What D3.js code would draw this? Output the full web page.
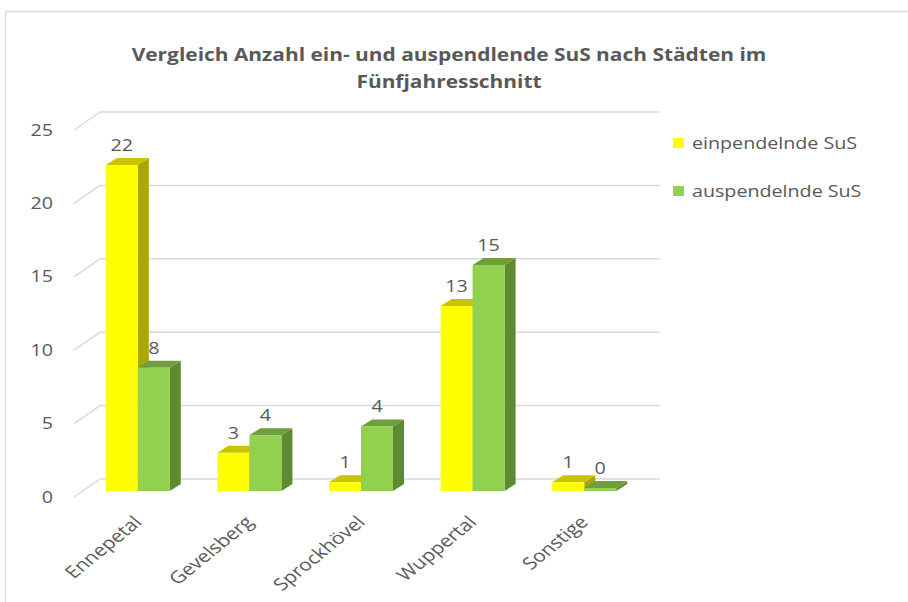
<!DOCTYPE html>
<html><head><meta charset="utf-8">
<script src="https://cdn.jsdelivr.net/npm/d3@7"></script>
<style>
html,body{margin:0;padding:0;background:#fff;}
text{font-family:"Open Sans",sans-serif;fill:#595959;}
</style></head>
<body>
<svg id="chart" width="908" height="602"></svg>
<script>
const categories = ["Ennepetal","Gevelsberg","Sprockhövel","Wuppertal","Sonstige"];
const einpendelnde = [22.2, 2.6, 0.6, 12.6, 0.6];
const auspendelnde = [8.4, 3.8, 4.4, 15.4, 0.2];
const seriesNames = ["einpendelnde SuS","auspendelnde SuS"];
const yTicks = [0,5,10,15,20,25];
const titleLines = ["Vergleich Anzahl ein- und auspendlende SuS nach Städten im","Fünfjahresschnitt"];

const colors = [
  {front:"#ffff00", top:"#c9c400", side:"#a9a800"},
  {front:"#92d050", top:"#6f9e3c", side:"#5e8a30"}
];
const SX = 1.23; // horizontal text stretch of the original rendering

const svg = d3.select("#chart");
svg.append("rect").attr("x",5.5).attr("y",11.5).attr("width",1000).attr("height",1000)
  .attr("fill","none").attr("stroke","#d9d9d9").attr("stroke-width",1.5);

// title
svg.append("g").selectAll("text").data(titleLines).join("text")
  .attr("transform",(d,i)=>`translate(449,${61+i*27}) scale(${SX},1)`)
  .attr("text-anchor","middle")
  .attr("font-size",17).attr("font-weight",700).text(d=>d);

const y = d3.scaleLinear().domain([0,25]).range([491,124]);
const x = d3.scaleBand().domain(categories).range([82,640]);
const inner = d3.scaleBand().domain([0,1]).range([-32,32]);
const depthX = 11, depthY = 7;
const backOff = {dx:17, dy:-12}, frontOff = {dx:-9, dy:6};

const grid = svg.append("g").attr("stroke","#d9d9d9").attr("stroke-width",1.5).attr("fill","none");
yTicks.forEach(t=>{
  const yb = y(t)+backOff.dy;
  grid.append("line").attr("x1",82+backOff.dx+1).attr("x2",660).attr("y1",yb).attr("y2",yb);
  grid.append("line").attr("x1",82+frontOff.dx+1).attr("y1",y(t)+frontOff.dy)
    .attr("x2",82+backOff.dx+1).attr("y2",yb);
});

const yFront = y.copy().range([y.range()[0]+frontOff.dy, y.range()[1]+frontOff.dy]);
const yAxis = svg.append("g").attr("transform","translate(53,0)")
  .call(d3.axisLeft(yFront).tickValues(yTicks).tickSize(0).tickPadding(0).tickFormat(d3.format("d")));
yAxis.select(".domain").remove();
yAxis.selectAll("text").attr("font-size",16).attr("font-family","Open Sans").attr("fill","#595959")
  .attr("x",0).attr("transform",`scale(${SX},1)`);

const series = [einpendelnde, auspendelnde];
const barsG = svg.append("g");
categories.forEach((c,ci)=>{
  const cx = x(c)+x.bandwidth()/2;
  series.forEach((vals,si)=>{
    const v = vals[ci];
    const x0 = cx+inner(si), x1 = x0+inner.bandwidth();
    const y0 = y(0), y1 = y(v);
    const col = colors[si];
    const g = barsG.append("g");
    g.append("path").attr("d",`M${x1},${y0}L${x1+depthX},${y0-depthY}L${x1+depthX},${y1-depthY}L${x1},${y1}Z`)
      .attr("fill",col.side);
    g.append("path").attr("d",`M${x0},${y1}L${x0+depthX},${y1-depthY}L${x1+depthX},${y1-depthY}L${x1},${y1}Z`)
      .attr("fill",col.top);
    g.append("rect").attr("x",x0).attr("y",y1).attr("width",x1-x0).attr("height",y0-y1).attr("fill",col.front);
    g.append("text").attr("transform",`translate(${(x0+x1)/2},${y1-14}) scale(${SX},1)`)
      .attr("text-anchor","middle").attr("font-size",16).text(d3.format(".0f")(v));
  });
});

const xAxis = svg.append("g").attr("transform","translate(0,519)")
  .call(d3.axisBottom(x).tickSize(0).tickPadding(0));
xAxis.select(".domain").remove();
xAxis.selectAll("text").attr("font-size",17).attr("font-family","Open Sans").attr("fill","#595959")
  .attr("text-anchor","end").attr("dy","0.35em").attr("y",0)
  .attr("transform",`scale(${SX},1) rotate(-45)`);

const leg = svg.append("g").attr("transform","translate(673,138)");
seriesNames.forEach((n,i)=>{
  const g = leg.append("g").attr("transform",`translate(0,${i*48})`);
  g.append("rect").attr("width",11).attr("height",10).attr("fill",colors[i].front);
  g.append("text").attr("transform",`translate(19,5) scale(${SX},1)`).attr("dy","0.35em")
    .attr("font-size",16).text(n);
});
</script>
</body></html>
